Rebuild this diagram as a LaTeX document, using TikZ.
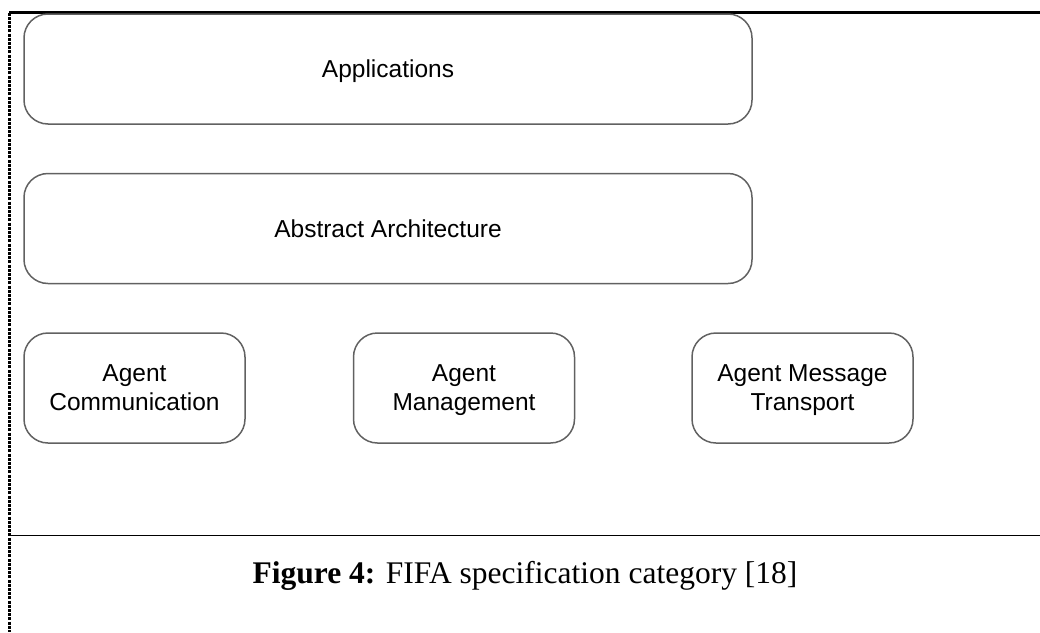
\documentclass[tikz,border=0pt]{standalone}
\usepackage{fontspec}
\setmainfont{Liberation Serif}
\newfontfamily\boxfont{Liberation Sans}
\begin{document}
\begin{tikzpicture}[x=1pt,y=-1pt,
  layer/.style={draw=black!62, line width=1.5pt, rounded corners=24pt,
    font=\boxfont\fontsize{24.5}{29}\selectfont, align=center, inner sep=0pt,
    text depth=0pt},
  widebox/.style={layer, minimum width=728pt, minimum height=110pt},
  smallbox/.style={layer, minimum width=221pt, minimum height=110pt},
  framerule/.style={line width=2.4pt, black},
  sideline/.style={line width=2.2pt, black, dash pattern=on 3pt off 1.2pt}
]
\useasboundingbox (0,0) rectangle (1040,632);

% frame of the figure cell
\coordinate (topL) at (9,12.5);
\coordinate (topR) at (1040,12.5);
\coordinate (sideB) at (9.5,632);
\coordinate (sideT) at (9.5,12.5);
\coordinate (midL) at (9.5,535.5);
\coordinate (midR) at (1040,535.5);
\draw[framerule] (topL) -- (topR);
\draw[sideline] (sideT) -- (sideB);
\draw[line width=1.9pt] (midL) -- (midR);

% specification layers
\node[widebox] (app) at (388,69) {Applications};
\node[widebox] (arch) at (388,228.5) {Abstract Architecture};
\node[smallbox] (comm) at (134.5,388) {Agent\\Communication};
\node[smallbox] (mgmt) at (464,388) {Agent\\Management};
\node[smallbox] (mts) at (802.5,388) {Agent Message\\Transport};

% caption
\node[anchor=base, font=\fontsize{31.5}{36}\selectfont, inner sep=0pt] (cap) at (525,583)
  {\textbf{Figure 4:} FIFA specification category [18]};
\end{tikzpicture}
\end{document}
